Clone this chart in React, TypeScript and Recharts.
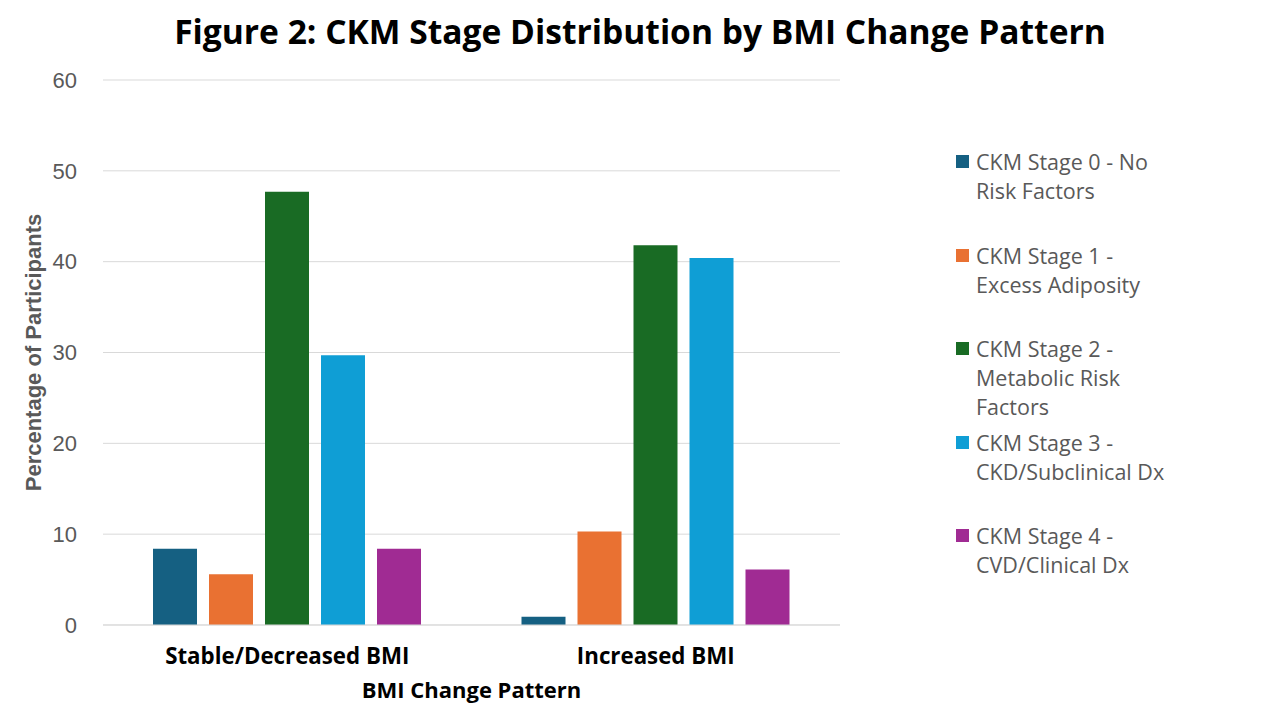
import React from 'react';
import { BarChart, Bar, XAxis, YAxis, CartesianGrid, Legend, Label } from 'recharts';

const categories = ['Stable/Decreased BMI', 'Increased BMI'];
const seriesNames = [
  'CKM Stage 0 - No Risk Factors',
  'CKM Stage 1 - Excess Adiposity',
  'CKM Stage 2 - Metabolic Risk Factors',
  'CKM Stage 3 - CKD/Subclinical Dx',
  'CKM Stage 4 - CVD/Clinical Dx',
];
const stage0 = [8.4, 0.9];
const stage1 = [5.6, 10.3];
const stage2 = [47.7, 41.8];
const stage3 = [29.7, 40.4];
const stage4 = [8.4, 6.1];
const yTicks = [0, 10, 20, 30, 40, 50, 60];
const colors = ['#156082', '#E97132', '#196B24', '#0F9ED5', '#A02B93'];

const seriesValues = [stage0, stage1, stage2, stage3, stage4];
const keys = ['s0', 's1', 's2', 's3', 's4'];
const data = categories.map((c, i) => {
  const row: any = { category: c };
  keys.forEach((k, j) => {
    row[k] = seriesValues[j][i];
  });
  return row;
});

const APTOS = '"Open Sans", Lato, sans-serif';
const ARIAL = '"Liberation Sans", Arial, sans-serif';

const renderLegend = (props: any) => {
  const payload = props.payload || [];
  return (
    <div style={{ position: 'relative', width: 300, height: 600 }}>
      {payload.map((entry: any, i: number) => (
        <div
          key={i}
          style={{
            position: 'absolute',
            left: 0,
            top: i * 93.5,
            display: 'flex',
            alignItems: 'flex-start',
          }}
        >
          <div
            style={{
              width: 13,
              height: 13,
              background: entry.color,
              marginTop: 8,
              marginRight: 7,
              flex: 'none',
            }}
          />
          <div
            style={{
              width: 198,
              fontFamily: APTOS,
              fontSize: 21.5,
              lineHeight: '29px',
              color: '#595959',
              textAlign: 'left',
            }}
          >
            {entry.value}
          </div>
        </div>
      ))}
    </div>
  );
};

export default function App() {
  return (
    <div style={{ position: 'absolute', left: 0, top: 0, width: 1280, height: 720, background: '#fff' }}>
      <svg width={1280} height={70} style={{ position: 'absolute', left: 0, top: 0 }}>
        <text
          x={640}
          y={44}
          textAnchor="middle"
          fontFamily={APTOS}
          fontWeight={700}
          fontSize={33.6}
          fill="#000"
        >
          Figure 2: CKM Stage Distribution by BMI Change Pattern
        </text>
      </svg>
      <BarChart
        width={1280}
        height={720}
        data={data}
        margin={{ top: 80, right: 440, left: 0, bottom: 0 }}
        barSize={44}
        barGap={12}
      >
        <CartesianGrid vertical={false} stroke="#d9d9d9" />
        <XAxis
          dataKey="category"
          height={95}
          axisLine={{ stroke: '#d9d9d9' }}
          tickLine={false}
          tickSize={6}
          tickMargin={17}
          tick={{ fill: '#000', fontSize: 22.3, fontWeight: 700, fontFamily: APTOS }}
        >
          <Label
            content={(p: any) => {
              const vb = p.viewBox;
              return (
                <text
                  x={vb.x + vb.width / 2}
                  y={689}
                  textAnchor="middle"
                  dominantBaseline="central"
                  fontFamily={APTOS}
                  fontWeight={700}
                  fontSize={22}
                  fill="#000"
                >
                  BMI Change Pattern
                </text>
              );
            }}
          />
        </XAxis>
        <YAxis
          width={103}
          domain={[0, 60]}
          ticks={yTicks}
          axisLine={false}
          tickLine={false}
          tickSize={6}
          tickMargin={20}
          tick={{ fill: '#595959', fontSize: 22, fontFamily: ARIAL }}
        >
          <Label
            content={(p: any) => {
              const vb = p.viewBox;
              const cx = 33;
              const cy = vb.y + vb.height / 2;
              return (
                <text
                  x={cx}
                  y={cy}
                  transform={`rotate(-90 ${cx} ${cy})`}
                  textAnchor="middle"
                  dominantBaseline="central"
                  fontFamily={ARIAL}
                  fontWeight={700}
                  fontSize={22}
                  fill="#595959"
                >
                  Percentage of Participants
                </text>
              );
            }}
          />
        </YAxis>
        <Legend
          layout="vertical"
          align="center"
          verticalAlign="middle"
          content={renderLegend}
          wrapperStyle={{ left: 956, top: 147, width: 300, height: 600 }}
        />
        {keys.map((k, j) => (
          <Bar key={k} dataKey={k} name={seriesNames[j]} fill={colors[j]} isAnimationActive={false} />
        ))}
      </BarChart>
    </div>
  );
}
